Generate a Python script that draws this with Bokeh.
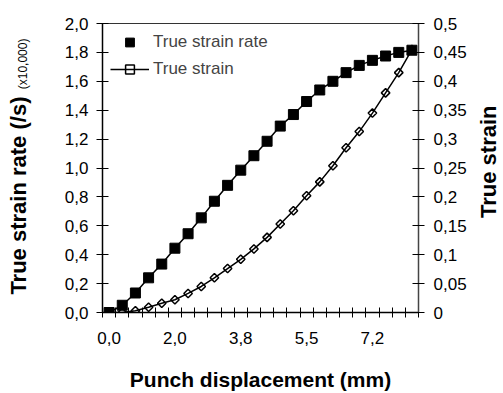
import math
from bokeh.plotting import figure
from bokeh.layouts import row
from bokeh.models import (Range1d, LinearAxis, FixedTicker, CustomJSTickFormatter,
                          Legend, LegendItem, ColumnDataSource, Label)
from bokeh.embed import file_html
from bokeh.resources import INLINE

# ---- data ----
strain_rate = [0.00, 0.05, 0.135, 0.24, 0.335, 0.445, 0.545, 0.655, 0.77, 0.88,
               0.985, 1.085, 1.185, 1.29, 1.37, 1.46, 1.54, 1.60, 1.66, 1.71,
               1.745, 1.775, 1.80, 1.815]          # x10,000 /s
true_strain = [0.0, 0.0, 0.003, 0.009, 0.016, 0.022, 0.033, 0.045, 0.06, 0.076,
               0.092, 0.11, 0.13, 0.153, 0.176, 0.202, 0.226, 0.254, 0.285, 0.313,
               0.345, 0.38, 0.415, 0.455]
x_tick_labels = ["0,0", "2,0", "3,8", "5,5", "7,2"]   # every 5th category
left_tick_values = [0.0, 0.2, 0.4, 0.6, 0.8, 1.0, 1.2, 1.4, 1.6, 1.8, 2.0]
left_tick_labels = ["0,0", "0,2", "0,4", "0,6", "0,8", "1,0", "1,2", "1,4", "1,6", "1,8", "2,0"]
right_tick_values = [0.0, 0.05, 0.1, 0.15, 0.2, 0.25, 0.3, 0.35, 0.4, 0.45, 0.5]
right_tick_labels = ["0", "0,05", "0,1", "0,15", "0,2", "0,25", "0,3", "0,35", "0,4", "0,45", "0,5"]

n = len(strain_rate)
idx = list(range(n))
label_every = 5

src = ColumnDataSource(dict(x=idx, rate=strain_rate, strain=true_strain))

FONT = "Liberation Sans"
H = 393
LW, RW = 40, 25            # side strips holding the vertical titles
W = 503 - LW - RW
ML, MR, MT, MB = 62, 60, 23, 79

p = figure(width=W, height=H, x_range=Range1d(-0.5, n - 0.5), y_range=Range1d(0, 2.0),
           output_backend="svg", toolbar_location=None,
           min_border_left=ML, min_border_right=MR, min_border_top=MT, min_border_bottom=MB)
p.extra_y_ranges = {"right": Range1d(0, 0.5)}
p.xgrid.visible = False
p.ygrid.visible = False
p.outline_line_color = "#333333"
p.outline_line_width = 1
p.background_fill_color = "white"
p.border_fill_color = "white"

fmt_code = """
let b = 0;
for (let i = 0; i < v.length; i++) { if (Math.abs(v[i]-tick) < Math.abs(v[b]-tick)) b = i; }
return l[b];
"""

# x axis
xa = p.xaxis[0]
x_pos = idx[::label_every]
xa.ticker = FixedTicker(ticks=x_pos, minor_ticks=[i - 0.5 for i in range(n + 1)])
xa.formatter = CustomJSTickFormatter(args=dict(v=x_pos, l=x_tick_labels), code=fmt_code)
xa.major_tick_in = 0
xa.major_tick_out = 0
xa.minor_tick_in = 5
xa.minor_tick_out = 5
xa.minor_tick_line_color = "black"
xa.axis_line_color = "black"
xa.axis_line_width = 1.5
xa.major_label_standoff = 14
xa.major_label_text_font = FONT
xa.major_label_text_font_size = "17px"
xa.major_label_text_color = "black"
xa.axis_label = "Punch displacement (mm)"
xa.axis_label_standoff = 21
xa.axis_label_text_font = FONT
xa.axis_label_text_font_size = "21px"
xa.axis_label_text_font_style = "bold"
xa.axis_label_text_color = "black"

# left y axis
ya = p.yaxis[0]
ya.ticker = FixedTicker(ticks=left_tick_values)
ya.formatter = CustomJSTickFormatter(args=dict(v=left_tick_values, l=left_tick_labels), code=fmt_code)
ya.major_tick_in = 6
ya.major_tick_out = 6
ya.minor_tick_line_color = None
ya.axis_line_color = "black"
ya.axis_line_width = 1.5
ya.major_tick_line_color = "black"
ya.major_label_standoff = 8
ya.major_label_text_font = FONT
ya.major_label_text_font_size = "17px"
ya.major_label_text_color = "black"

# right y axis
ra = LinearAxis(y_range_name="right")
ra.ticker = FixedTicker(ticks=right_tick_values)
ra.formatter = CustomJSTickFormatter(args=dict(v=right_tick_values, l=right_tick_labels), code=fmt_code)
ra.major_tick_in = 6
ra.major_tick_out = 6
ra.minor_tick_line_color = None
ra.axis_line_color = "#444444"
ra.axis_line_width = 1.5
ra.major_tick_line_color = "black"
ra.major_label_standoff = 9
ra.major_label_text_font = FONT
ra.major_label_text_font_size = "17px"
ra.major_label_text_color = "black"
p.add_layout(ra, "right")

# series
sl = p.line("x", "strain", source=src, y_range_name="right", line_color="black", line_width=1.5)
sd = p.scatter("x", "strain", source=src, y_range_name="right", marker="square", size=6,
               angle=math.pi / 4, fill_alpha=0, line_color="black", line_width=1.5)
rl = p.line("x", "rate", source=src, line_color="black", line_width=1.5)
rs = p.scatter("x", "rate", source=src, marker="square", size=10,
               fill_color="black", line_color="black")

legend = Legend(items=[LegendItem(label="True strain rate", renderers=[rs]),
                       LegendItem(label="True strain", renderers=[sl, sd])],
                location="top_left", margin=8, padding=0, spacing=5,
                glyph_width=39, glyph_height=22, label_height=22, label_standoff=4,
                label_text_font=FONT, label_text_font_size="17px",
                label_text_baseline="middle",
                border_line_color=None, background_fill_alpha=0)
p.add_layout(legend)


# ---- side strips carrying the vertical axis titles ----
def strip(width):
    s = figure(width=width, height=H, x_range=Range1d(0, width), y_range=Range1d(0, H),
               output_backend="svg", toolbar_location=None,
               x_axis_type=None, y_axis_type=None, min_border=0)
    s.outline_line_color = None
    s.background_fill_color = "white"
    s.border_fill_color = "white"
    s.xgrid.visible = False
    s.ygrid.visible = False
    return s


left_strip = strip(LW)
left_strip.add_layout(Label(x=18, y=159, text="True strain rate (/s)", angle=math.pi / 2,
                            text_align="center", text_baseline="alphabetic",
                            text_font=FONT, text_font_size="22px", text_font_style="bold",
                            text_color="black"))
left_strip.add_layout(Label(x=22, y=338, text="(x10,000)", angle=math.pi / 2,
                            text_align="center", text_baseline="alphabetic",
                            text_font=FONT, text_font_size="12px",
                            text_color="black"))

right_strip = strip(RW)
right_strip.add_layout(Label(x=10, y=205, text="True strain", angle=math.pi / 2,
                             text_align="center", text_baseline="alphabetic",
                             text_font=FONT, text_font_size="22px", text_font_style="bold",
                             text_color="black"))

layout = row(left_strip, p, right_strip, spacing=0)

open("out.html", "w").write(file_html(layout, INLINE))
